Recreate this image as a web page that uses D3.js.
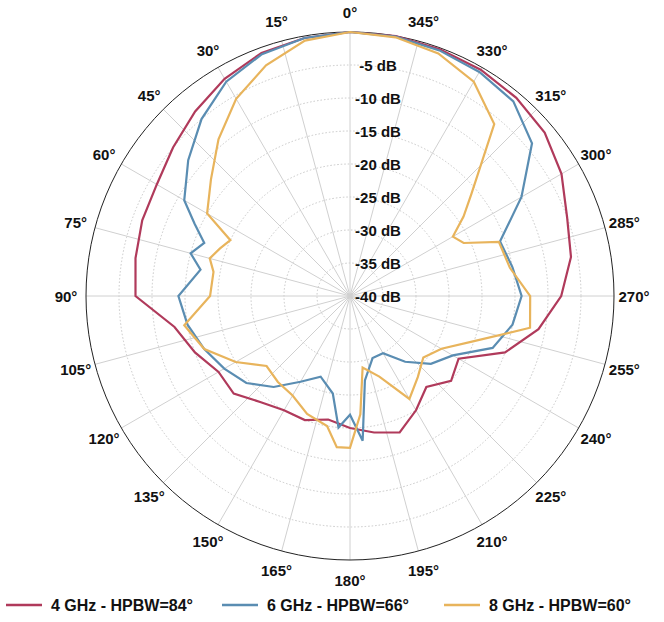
<!DOCTYPE html>
<html><head><meta charset="utf-8">
<script src="https://cdn.jsdelivr.net/npm/d3@7"></script>
<style>body{margin:0;background:#fff}text{font-family:"Liberation Sans",Arial,sans-serif;font-weight:bold}</style>
</head><body><svg id="chart" width="664" height="622"></svg>
<script>
const ringLabels = [-5, -10, -15, -20, -25, -30, -35, -40];
const spokeAngles = d3.range(0, 360, 15);

const angles4 = [0,10,20,30,40,50,60,70,80,90,100,110,120,130,140,150,160,170,180,190,200,210,220,230,240,250,260,270,280,290,300,310,320,330,340,350];
const red4 = [0,-0.3,-0.8,-2,-3.5,-5,-6.2,-6.5,-7,-7.5,-13,-15,-17,-17,-19,-20,-20,-21,-20,-19,-18,-20,-22,-20,-21,-15,-11,-8,-6,-5,-3,-1.5,-0.8,-0.4,-0.2,0];

const angles6 = [0,10,20,30,40,50,60,65,70,75,80,90,100,110,120,130,140,150,160,170,175,180,185,190,200,210,220,230,240,250,260,270,280,290,300,310,320,330,340,350];
const blue6 = [0,-0.3,-1,-2.5,-5,-8,-11,-14,-16.5,-15,-17,-14,-15,-16.5,-18,-19.5,-22,-25,-27,-25,-20,-22,-18,-27,-30,-30,-27,-24,-22,-17,-15,-14,-15,-15.8,-10,-4,-1.5,-0.8,-0.4,-0.1];

const angles8 = [0,10,20,30,40,50,60,65,70,75,80,90,100,110,120,130,140,150,160,170,175,180,185,190,200,210,220,230,240,250,260,270,280,290,295,300,305,310,320,330,340,350];
const yellow8 = [0,-0.7,-2.8,-5.5,-9,-12.5,-15,-20,-19,-18,-19,-18.8,-14.5,-16.5,-20,-23.5,-23,-22.6,-21,-20,-17,-17,-22,-29,-27,-22,-24,-25.5,-24,-20,-12.3,-12.7,-15.4,-16,-21,-22,-19,-16,-6,-2.5,-0.9,-0.2];

const series = [
  {name: "4 GHz - HPBW=84°", angles: angles4, values: red4, color: "#b03a5b"},
  {name: "6 GHz - HPBW=66°", angles: angles6, values: blue6, color: "#5a8db2"},
  {name: "8 GHz - HPBW=60°", angles: angles8, values: yellow8, color: "#e8b45c"}
];

const svg = d3.select("#chart");
const cx = 350, cy = 296, R = 264;
const r = d3.scaleLinear().domain([-40, 0]).range([0, R]);
const g = svg.append("g").attr("transform", "translate(" + cx + "," + cy + ")");

// counter-clockwise, 0 at top
function pt(deg, rad) {
  const a = deg * Math.PI / 180;
  return [-rad * Math.sin(a), -rad * Math.cos(a)];
}

g.selectAll(".ring").data(ringLabels.slice(0, 7)).enter().append("circle")
  .attr("r", d => r(d)).attr("fill", "none")
  .attr("stroke", "#c8c8c8").attr("stroke-dasharray", "1.5,2").attr("stroke-width", 1);

g.selectAll(".spoke").data(spokeAngles).enter().append("line")
  .attr("x1", 0).attr("y1", 0)
  .attr("x2", d => pt(d, R)[0]).attr("y2", d => pt(d, R)[1])
  .attr("stroke", "#d0d0d0").attr("stroke-width", 1);

g.append("circle").attr("r", R).attr("fill", "none").attr("stroke", "#222").attr("stroke-width", 1);

g.selectAll(".alabel").data(spokeAngles).enter().append("text")
  .attr("x", d => pt(d, R + 20)[0]).attr("y", d => pt(d, R + 20)[1])
  .attr("text-anchor", "middle").attr("dominant-baseline", "central")
  .attr("font-size", 15).attr("fill", "#111")
  .text(d => d + "°");

const line = d3.lineRadial().curve(d3.curveLinearClosed);
series.forEach(function (s) {
  const pts = s.angles.map((a, i) => [-a * Math.PI / 180, r(s.values[i])]);
  g.append("path").datum(pts).attr("d", line)
    .attr("fill", "none").attr("stroke", s.color).attr("stroke-width", 2.2);
});

g.selectAll(".rlabel").data(ringLabels).enter().append("text")
  .attr("x", 28).attr("y", d => -r(d))
  .attr("text-anchor", "middle").attr("dominant-baseline", "central")
  .attr("font-size", 15).attr("fill", "#111")
  .text(d => d + " dB");

const legendX = [6, 222, 444];
const lg = svg.selectAll(".leg").data(series).enter().append("g")
  .attr("transform", (d, i) => "translate(" + legendX[i] + ",605)");
lg.append("line").attr("x1", 0).attr("x2", 36).attr("stroke", d => d.color).attr("stroke-width", 2.5);
lg.append("text").attr("x", 45).attr("dominant-baseline", "central")
  .attr("font-size", 16).attr("fill", "#111").text(d => d.name);
</script></body></html>
